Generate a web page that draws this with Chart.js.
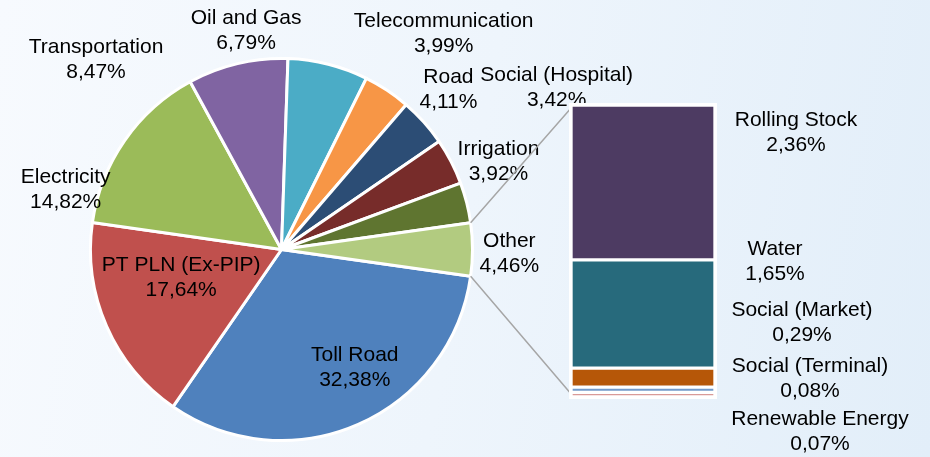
<!DOCTYPE html>
<html><head><meta charset="utf-8">
<script src="https://cdn.jsdelivr.net/npm/chart.js@4/dist/chart.umd.min.js"></script>
<style>
html,body{margin:0;padding:0;}
body{width:930px;height:457px;overflow:hidden;position:relative;background:linear-gradient(100deg,#F7FAFE 0%,#EEF5FC 50%,#E2EEF9 100%);}
canvas{position:absolute;left:0;top:0;}
</style></head><body>
<canvas id="pie" width="930" height="457"></canvas>
<canvas id="bar" width="930" height="457"></canvas>
<script>
// ---- data ----
const pieCategories = ['Toll Road','PT PLN (Ex-PIP)','Electricity','Transportation','Oil and Gas','Telecommunication','Road','Irrigation','Social (Hospital)','Other'];
const pieValues = [32.38, 17.64, 14.82, 8.47, 6.79, 3.99, 4.11, 3.92, 3.42, 4.46];
const barCategories = ['Rolling Stock','Water','Social (Market)','Social (Terminal)','Renewable Energy'];
const barValues = [2.36, 1.65, 0.29, 0.08, 0.07];

// ---- styles ----
const pieColors = ['#4F81BD','#C0504D','#9BBB59','#8064A2','#4BACC6','#F79646','#2C4D75','#772C2A','#5F7530','#B2CB80'];
const barColors = ['#4D3B62','#276A7C','#B65708','#729ACA','#D99A98'];
// label placement: [angle from top (deg, clockwise), distance as fraction of radius]
const pieLabelLayout = [[148.3,0.730],[254.2,0.546],[285.4,1.172],[315.6,1.388],[350.8,1.159],[36.9,1.414],[46.2,1.211],[67.9,1.226],[59.5,1.672],[91.0,1.193]];
// bar label centres relative to bar area's right/top edge
const barLabelLayout = [[81,28],[60,156.5],[87,218],[95,274],[105,327]];
const FONT = '21px "Liberation Sans", Arial, sans-serif';
const LINE_H = 25;
const fmt = v => v.toFixed(2).replace('.', ',') + '%';

function drawLabel(ctx, name, value, x, y) {
  ctx.save();
  ctx.font = FONT;
  ctx.fillStyle = '#000';
  ctx.textAlign = 'center';
  ctx.textBaseline = 'middle';
  ctx.fillText(name, x, y - LINE_H / 2);
  ctx.fillText(fmt(value), x, y + LINE_H / 2);
  ctx.restore();
}

const pieTotal = pieValues.reduce((a, b) => a + b, 0);
const otherValue = pieValues[pieValues.length - 1];

const pieLabelPlugin = {
  id: 'pieLabels',
  afterDatasetsDraw(chart) {
    const meta = chart.getDatasetMeta(0);
    meta.data.forEach((arc, i) => {
      const [deg, f] = pieLabelLayout[i];
      const a = deg * Math.PI / 180;
      const R = arc.outerRadius;
      drawLabel(chart.ctx, pieCategories[i], pieValues[i], arc.x + f * R * Math.sin(a), arc.y - f * R * Math.cos(a));
    });
  }
};

const pieChart = new Chart(document.getElementById('pie'), {
  type: 'pie',
  data: {
    labels: pieCategories,
    datasets: [{ data: pieValues, backgroundColor: pieColors, borderColor: '#FFFFFF', borderWidth: 3 }]
  },
  options: {
    responsive: false,
    animation: false,
    rotation: 90 + (otherValue / pieTotal) * 180,
    layout: { padding: { left: 89, right: 456, top: 57, bottom: 15 } },
    plugins: { legend: { display: false }, tooltip: { enabled: false } }
  },
  plugins: [pieLabelPlugin]
});

const barTotal = barValues.reduce((a, b) => a + b, 0);
const barOrder = barValues.map((v, i) => i).reverse(); // bottom first

const barPlugin = {
  id: 'barExtras',
  beforeDatasetsDraw(chart) {
    const ctx = chart.ctx;
    const ca = chart.chartArea;
    // connector lines from the "Other" slice to the bar
    const arc = pieChart.getDatasetMeta(0).data[pieValues.length - 1];
    const R = arc.outerRadius;
    const p1 = [arc.x + R * Math.cos(arc.startAngle), arc.y + R * Math.sin(arc.startAngle)];
    const p2 = [arc.x + R * Math.cos(arc.endAngle), arc.y + R * Math.sin(arc.endAngle)];
    ctx.save();
    ctx.strokeStyle = '#A6A6A6';
    ctx.lineWidth = 1.5;
    ctx.beginPath();
    ctx.moveTo(p1[0], p1[1]); ctx.lineTo(ca.left + 1, ca.top + 2);
    ctx.moveTo(p2[0], p2[1]); ctx.lineTo(ca.left + 1, ca.bottom - 2);
    ctx.stroke();
    // white frame behind the bar
    ctx.fillStyle = '#FFFFFF';
    ctx.fillRect(ca.left - 2, ca.top - 2, ca.right - ca.left + 4, ca.bottom - ca.top + 4);
    ctx.restore();
  },
  afterDatasetsDraw(chart) {
    const ca = chart.chartArea;
    barCategories.forEach((name, i) => {
      const [dx, dy] = barLabelLayout[i];
      drawLabel(chart.ctx, name, barValues[i], ca.right + dx, ca.top + dy);
    });
  }
};

new Chart(document.getElementById('bar'), {
  type: 'bar',
  data: {
    labels: [''],
    datasets: barOrder.map(i => ({
      label: barCategories[i],
      data: [barValues[i]],
      backgroundColor: barColors[i],
      borderColor: '#FFFFFF',
      borderWidth: 2,
      borderSkipped: false,
      barPercentage: 1,
      categoryPercentage: 1
    }))
  },
  options: {
    responsive: false,
    animation: false,
    layout: { padding: { left: 571, right: 215, top: 105, bottom: 60 } },
    scales: {
      x: { display: false, stacked: true },
      y: { display: false, stacked: true, min: 0, max: barTotal }
    },
    plugins: { legend: { display: false }, tooltip: { enabled: false } }
  },
  plugins: [barPlugin]
});
</script>
</body></html>
